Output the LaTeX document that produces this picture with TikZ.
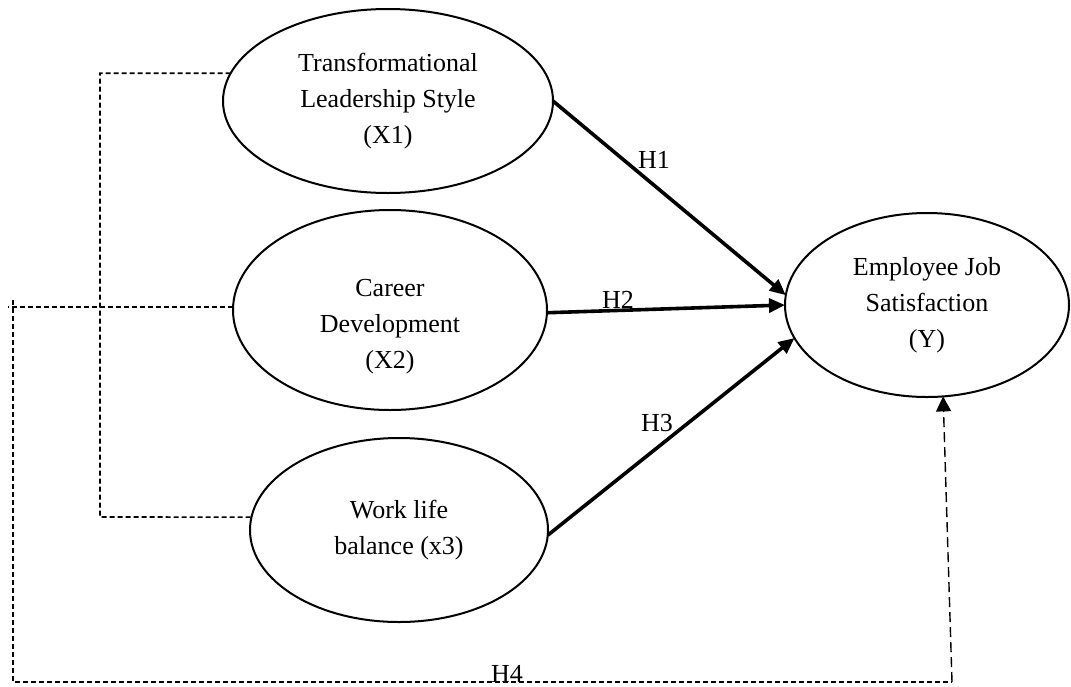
\documentclass[tikz,border=0pt]{standalone}
\usepackage{fontspec}
\setmainfont{Liberation Serif}
\usetikzlibrary{arrows.meta,shapes.geometric}
\begin{document}
\begin{tikzpicture}[x=1pt,y=-1pt,
  ell/.style={draw, ellipse, line width=2pt, inner sep=0pt, outer sep=0pt, align=center, font=\fontsize{26}{36}\selectfont},
  txt/.style={align=center, font=\fontsize{26}{36}\selectfont, inner sep=0pt},
  hyp/.style={line width=3.6pt, -{Triangle[length=16pt,width=14pt]}},
  lnk/.style={line width=1.6pt, dash pattern=on 5pt off 3pt},
  lnkarr/.style={line width=1.4pt, dash pattern=on 10pt off 5pt, -{Triangle[length=15pt,width=15pt]}},
  lbl/.style={font=\fontsize{26}{26}\selectfont, inner sep=0pt, anchor=base}]
\useasboundingbox (0,0) rectangle (1071,686);

% ellipses
\node[ell, minimum width=330pt, minimum height=184pt] (x1) at (388,101) {Transformational\\Leadership Style\\(X1)};
\node[ell, minimum width=314pt, minimum height=200pt] (x2) at (390,310) {};
\node[txt] (x2t) at (390,327) {Career\\Development\\(X2)};
\node[ell, minimum width=298pt, minimum height=184pt] (x3) at (399,530) {Work life\\balance (x3)};
\node[ell, minimum width=284pt, minimum height=184pt] (y) at (927,305) {Employee Job\\Satisfaction\\(Y)};

% hypothesis arrows
\draw[hyp] (x1.east) -- (y.176);
\draw[hyp] (x2.-1) -- (y.west);
\draw[hyp] (x3.-2) -- (y.194);

% dashed links
\coordinate (cB) at (100,517);
\draw[lnk] (x1.170) -| (cB) -- (x3.175);

\coordinate (o1) at (8,307);
\coordinate (o2) at (13,300);
\coordinate (o3) at (13,682);
\coordinate (o4) at (952,682);
\draw[lnk] (x2.179) -- (x2.179 -| o1);
\draw[lnk] (o2) -- (o3) -- (o4);
\draw[lnkarr] (o4) -- (y.-80);

% labels
\node[lbl] (h1) at (654,168) {H1};
\node[lbl] (h2) at (618,308) {H2};
\node[lbl] (h3) at (657,431) {H3};
\node[lbl] (h4) at (507,682) {H4};
\end{tikzpicture}
\end{document}
